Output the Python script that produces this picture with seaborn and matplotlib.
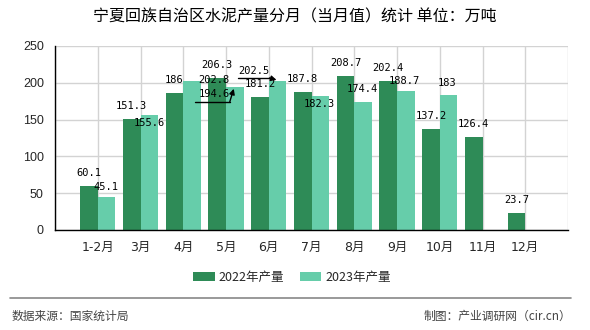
import numpy as np
import pandas as pd
import matplotlib
matplotlib.use('Agg')
import matplotlib.pyplot as plt
import seaborn as sns
from matplotlib.lines import Line2D
from matplotlib.patches import Patch, FancyArrowPatch
from matplotlib.transforms import IdentityTransform

months = ['1-2月', '3月', '4月', '5月', '6月', '7月', '8月', '9月', '10月', '11月', '12月']
prod_2022 = [60.1, 151.3, 186, 206.3, 181.2, 187.8, 208.7, 202.4, 137.2, 126.4, 23.7]
prod_2023 = [45.1, 155.6, 202.8, 194.6, 202.5, 182.3, 174.4, 188.7, 183, np.nan, np.nan]
series = ['2022年产量', '2023年产量']
colors = ['#2E8B57', '#66CDAA']
yticks = [0, 50, 100, 150, 200, 250]
title = '宁夏回族自治区水泥产量分月（当月值）统计 单位：万吨'
source = '数据来源：国家统计局'
maker = '制图：产业调研网（cir.cn）'

sns.set_style('white')
plt.rcParams['font.family'] = ['Noto Sans CJK SC', 'DejaVu Sans']

df = pd.DataFrame({
    '月份': months * 2,
    '产量': prod_2022 + prod_2023,
    '系列': [series[0]] * len(months) + [series[1]] * len(months),
})

fig = plt.figure(figsize=(5.9, 3.3), dpi=100)
ax = fig.add_axes([55 / 590, 100 / 330, 513 / 590, 184 / 330])
sns.barplot(data=df, x='月份', y='产量', hue='系列', palette=colors, width=0.82,
            saturation=1, errorbar=None, legend=False, ax=ax, zorder=2, linewidth=0,
            edgecolor='none')

ax.set_xlim(-1, 11)
ax.set_ylim(0, 250)
ax.set_xticks(range(-1, 12))
ax.set_xticklabels([''] + months + [''], family=['DejaVu Sans', 'Noto Sans CJK SC'], fontsize=9)
ax.set_yticks(yticks)
ax.set_yticklabels([str(v) for v in yticks], family=['Liberation Sans'], fontsize=9)
ax.set_xlabel('')
ax.set_ylabel('')
ax.grid(True, color='#d3d3d3', lw=1)
ax.set_axisbelow(True)
for s in ['top', 'right']:
    ax.spines[s].set_visible(False)
for s in ['left', 'bottom']:
    ax.spines[s].set_color('black')
    ax.spines[s].set_linewidth(1)
ax.tick_params(axis='both', direction='out', length=5, width=1, color='black', pad=3)

label_font = dict(family='DejaVu Sans Mono', fontsize=7.5, color='black')
# pixel offsets of label centres from bar-top centres
offsets = [
    {},
    {0: (-1, 10), 1: (0, -7.5), 2: (22, 1), 3: (-20, -7), 4: (-24, 10),
     5: (-1, -8), 6: (-1, 13), 7: (-1, 10), 8: (-1, 12)},
]
# leader lines (pixel offsets from bar top): underline start, corner, arrow tip
leaders = {
    3: [(-40, -15), (-5, -15), (-1, -2)],
    4: [(-40, 3), (-8, 3), (-1, 1)],
}
fig.canvas.draw()
for si, (cont, vals) in enumerate(zip(ax.containers, [prod_2022, prod_2023])):
    for i, (bar, v) in enumerate(zip(cont, vals)):
        if v is None or np.isnan(v):
            continue
        xc = bar.get_x() + bar.get_width() / 2
        dx, dy = offsets[si].get(i, (0, 13))
        ax.annotate(f'{v:g}', xy=(xc, v), xytext=(dx, dy), textcoords='offset pixels',
                    ha='center', va='center', zorder=5, **label_font)
        if si == 1 and i in leaders:
            px, py = ax.transData.transform((xc, v))
            pts = [(px + a, py + b) for a, b in leaders[i]]
            fig.add_artist(Line2D([pts[0][0], pts[1][0]], [pts[0][1], pts[1][1]],
                                  transform=IdentityTransform(), color='black', lw=1, zorder=6))
            fig.add_artist(FancyArrowPatch(pts[1], pts[2], transform=IdentityTransform(),
                                           arrowstyle='-|>', mutation_scale=8, color='black',
                                           lw=1, shrinkA=0, shrinkB=0, zorder=6))

fig.text(295 / 590, 1 - 17 / 330, title, ha='center', va='center', fontsize=11.5, color='black')

handles = [Patch(facecolor=c, edgecolor='none') for c in colors]
fig.legend(handles, series, loc='center', bbox_to_anchor=(292 / 590, 1 - 277 / 330), ncol=2,
           frameon=False, handlelength=1.7, handleheight=0.7, columnspacing=1.3,
           handletextpad=0.3, fontsize=9)

fig.add_artist(Line2D([10 / 590, 571 / 590], [1 - 298 / 330, 1 - 298 / 330],
                      transform=fig.transFigure, color='#888888', lw=1.2))
fig.text(12 / 590, 1 - 316 / 330, source, ha='left', va='center', fontsize=8.5, color='#444444')
fig.text(571 / 590, 1 - 316 / 330, maker, ha='right', va='center', fontsize=8.5, color='#444444')

fig.savefig('out.png', dpi=100, facecolor='white')
